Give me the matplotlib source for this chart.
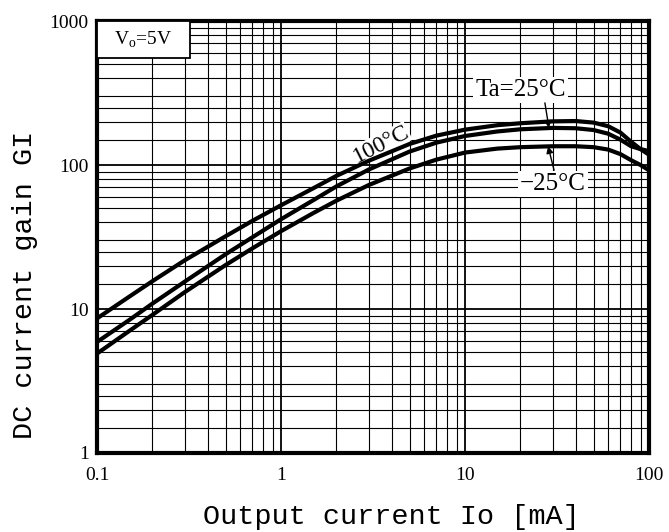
import matplotlib.pyplot as plt
from matplotlib.patches import Rectangle
from matplotlib.ticker import LogLocator, NullFormatter, FixedLocator, FixedFormatter

# output current Io [mA]
io_ma = [0.1, 0.15, 0.2, 0.3, 0.5, 0.7, 1, 1.5, 2, 3, 5, 7, 10, 15, 20, 30, 40,
         50, 60, 70, 80, 90, 100]

# DC current gain GI per ambient temperature
gain_100c = [8.6, 12.2, 15.6, 21.8, 32, 41, 52.5, 69, 84, 107, 140, 160, 176, 189, 195,
             201, 202, 197, 186, 168, 145, 129, 118]
gain_25c = [5.9, 8.4, 10.9, 15.5, 24, 31.5, 42, 57, 71, 93, 124, 143, 159, 171, 177,
            181, 180, 175, 165, 150, 135, 129, 125]
gain_m25c = [4.9, 7.05, 9.1, 13.1, 20.2, 26.4, 34.7, 46.4, 56.5, 72.6, 94.6, 109, 122,
             130, 133, 135, 135, 133, 128, 119, 108, 100, 92]

x_ticks = [0.1, 1, 10, 100]
x_labels = ["0.1", "1", "10", "100"]
y_ticks = [1, 10, 100, 1000]
y_labels = ["1", "10", "100", "1000"]

serif = ["Liberation Serif", "DejaVu Serif"]
mono = ["Liberation Mono", "DejaVu Sans Mono"]

fig = plt.figure(figsize=(6.69, 5.32), dpi=100)
ax = fig.add_axes([0.145, 0.1485, 0.825, 0.812])

ax.set_xscale("log")
ax.set_yscale("log")
ax.set_xlim(0.1, 100)
ax.set_ylim(1, 1000)

# graph-paper style grid
ax.xaxis.set_minor_locator(LogLocator(base=10, subs=range(2, 10)))
ax.yaxis.set_minor_locator(LogLocator(base=10, subs=[1.5, 2, 2.5, 3, 4, 5, 6, 7, 8, 9]))
ax.xaxis.set_minor_formatter(NullFormatter())
ax.yaxis.set_minor_formatter(NullFormatter())
ax.grid(which="major", color="black", linewidth=1.3)
ax.grid(which="minor", color="black", linewidth=0.8)
ax.set_axisbelow(True)

ax.xaxis.set_major_locator(FixedLocator(x_ticks))
ax.xaxis.set_major_formatter(FixedFormatter(x_labels))
ax.yaxis.set_major_locator(FixedLocator(y_ticks))
ax.yaxis.set_major_formatter(FixedFormatter(y_labels))
ax.tick_params(which="both", length=0)
ax.tick_params(axis="x", pad=10)
ax.tick_params(axis="y", pad=6)
for lbl in ax.get_xticklabels() + ax.get_yticklabels():
    lbl.set_family(serif)
    lbl.set_fontsize(14)

for s in ax.spines.values():
    s.set_linewidth(3)
    s.set_color("black")

for g in (gain_100c, gain_25c, gain_m25c):
    ax.plot(io_ma, g, color="black", linewidth=3, solid_joinstyle="round", zorder=3)

# condition box in the top-left corner
ax.add_patch(Rectangle((0, 0.915), 0.168, 0.085, transform=ax.transAxes,
                       facecolor="white", edgecolor="black", linewidth=1.3, zorder=4))
ax.text(0.084, 0.957, r"V$_\mathregular{o}$=5V", transform=ax.transAxes,
        ha="center", va="center", fontsize=14, family=serif, zorder=5)

# curve labels with leader arrows
box = dict(facecolor="white", edgecolor="none", pad=1.5)
arrow = dict(arrowstyle="-|>", color="black", lw=1, shrinkA=0, shrinkB=0,
             mutation_scale=10)
ax.text(20, 332, "Ta=25°C", ha="center", va="center", fontsize=18, family=serif,
        bbox=box, zorder=5)
ax.annotate("", xy=(28.6, 181), xytext=(27.2, 270), arrowprops=arrow, zorder=5)
ax.text(30, 74, "\u221225°C", ha="center", va="center", fontsize=18, family=serif,
        bbox=box, zorder=5)
ax.annotate("", xy=(28.3, 135), xytext=(30.5, 92), arrowprops=arrow, zorder=5)
ax.text(3.5, 140, "100°C", rotation=27, ha="center", va="center",
        fontsize=17, family=serif, bbox=dict(facecolor="white", edgecolor="none", pad=0),
        zorder=2.5)

fig.text(0.585, 0.028, "Output current Io [mA]", ha="center", va="center",
         fontsize=20.5, family=mono)
fig.text(0.038, 0.464, "DC current gain GI", ha="center", va="center",
         rotation=90, fontsize=20.5, family=mono)

fig.savefig("out.png", dpi=100)
